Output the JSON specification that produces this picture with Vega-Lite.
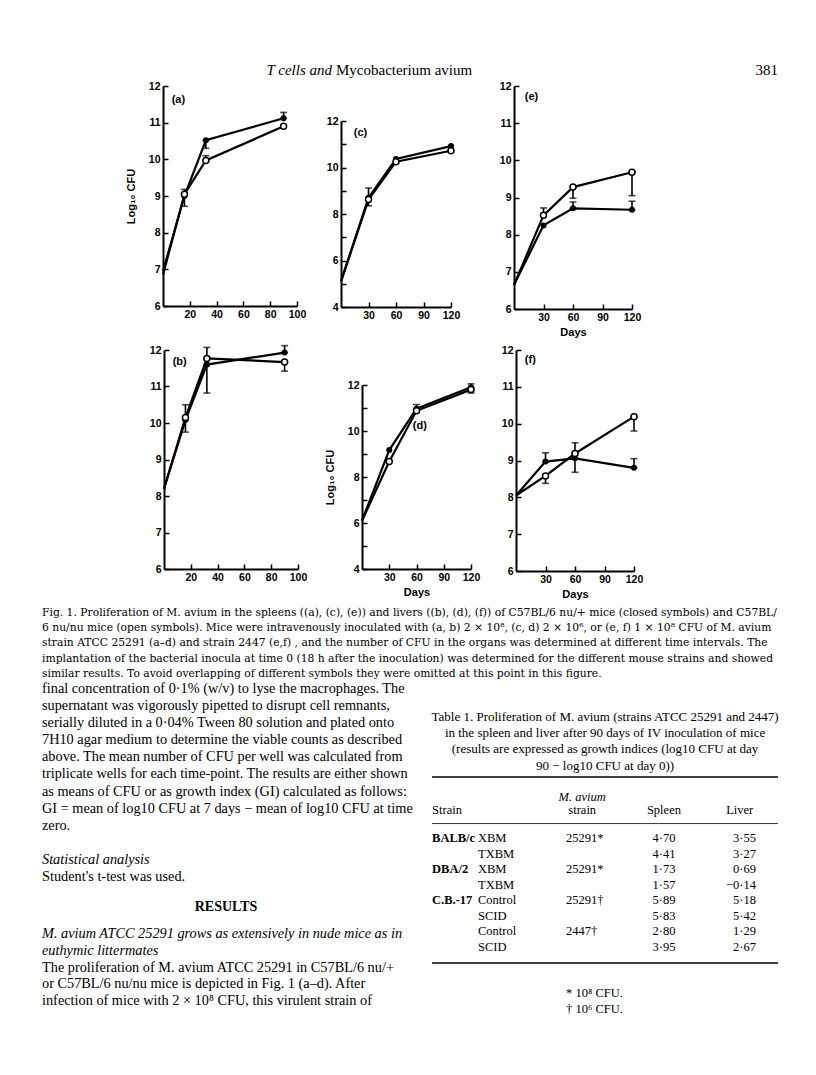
{
 "$schema": "https://vega.github.io/schema/vega-lite/v6.json",
 "background": "white",
 "padding": {"left": 42, "top": 63, "right": 0, "bottom": 0},
 "spacing": 3,
 "config": {
  "view": {"stroke": null},
  "font": "Liberation Sans",
  "axis": {"domainColor": "black", "domainWidth": 2, "tickColor": "black", "tickWidth": 1.5, "tickSize": -5, "labelColor": "black", "labelFont": "Liberation Sans", "labelFontWeight": "bold", "labelFontSize": 10.5, "labelPadding": 8, "labelFlush": false, "labelOverlap": false, "grid": false, "titleColor": "black", "titleFont": "Liberation Sans", "titleFontWeight": "bold", "titleFontSize": 11}
 },
 "datasets": {
  "fig": [
   {"panel": "a", "group": "nu/+", "day": 0, "cfu": 6.95, "err": null},
   {"panel": "a", "group": "nu/+", "day": 16, "cfu": 9.0, "err": 9.18},
   {"panel": "a", "group": "nu/+", "day": 32, "cfu": 10.52, "err": 10.3},
   {"panel": "a", "group": "nu/+", "day": 90, "cfu": 11.12, "err": 11.28},
   {"panel": "a", "group": "nu/nu", "day": 0, "cfu": 6.85, "err": null},
   {"panel": "a", "group": "nu/nu", "day": 16, "cfu": 9.05, "err": 8.72},
   {"panel": "a", "group": "nu/nu", "day": 32, "cfu": 9.97, "err": 10.1},
   {"panel": "a", "group": "nu/nu", "day": 90, "cfu": 10.9, "err": null},
   {"panel": "b", "group": "nu/+", "day": 0, "cfu": 8.2, "err": null},
   {"panel": "b", "group": "nu/+", "day": 16, "cfu": 10.08, "err": 9.75},
   {"panel": "b", "group": "nu/+", "day": 32, "cfu": 11.6, "err": 10.82},
   {"panel": "b", "group": "nu/+", "day": 90, "cfu": 11.93, "err": 12.12},
   {"panel": "b", "group": "nu/nu", "day": 0, "cfu": 8.2, "err": null},
   {"panel": "b", "group": "nu/nu", "day": 16, "cfu": 10.15, "err": 10.5},
   {"panel": "b", "group": "nu/nu", "day": 32, "cfu": 11.77, "err": 12.07},
   {"panel": "b", "group": "nu/nu", "day": 90, "cfu": 11.67, "err": 11.42},
   {"panel": "c", "group": "nu/+", "day": 0, "cfu": 5.1, "err": null},
   {"panel": "c", "group": "nu/+", "day": 30, "cfu": 8.7, "err": 9.12},
   {"panel": "c", "group": "nu/+", "day": 60, "cfu": 10.37, "err": null},
   {"panel": "c", "group": "nu/+", "day": 120, "cfu": 10.92, "err": null},
   {"panel": "c", "group": "nu/nu", "day": 0, "cfu": 5.1, "err": null},
   {"panel": "c", "group": "nu/nu", "day": 30, "cfu": 8.62, "err": 8.35},
   {"panel": "c", "group": "nu/nu", "day": 60, "cfu": 10.25, "err": null},
   {"panel": "c", "group": "nu/nu", "day": 120, "cfu": 10.72, "err": null},
   {"panel": "d", "group": "nu/+", "day": 0, "cfu": 6.1, "err": null},
   {"panel": "d", "group": "nu/+", "day": 30, "cfu": 9.17, "err": null},
   {"panel": "d", "group": "nu/+", "day": 60, "cfu": 10.97, "err": 11.15},
   {"panel": "d", "group": "nu/+", "day": 120, "cfu": 11.9, "err": 12.05},
   {"panel": "d", "group": "nu/nu", "day": 0, "cfu": 6.1, "err": null},
   {"panel": "d", "group": "nu/nu", "day": 30, "cfu": 8.67, "err": null},
   {"panel": "d", "group": "nu/nu", "day": 60, "cfu": 10.88, "err": null},
   {"panel": "d", "group": "nu/nu", "day": 120, "cfu": 11.8, "err": 11.65},
   {"panel": "e", "group": "nu/+", "day": 0, "cfu": 6.65, "err": null},
   {"panel": "e", "group": "nu/+", "day": 30, "cfu": 8.25, "err": null},
   {"panel": "e", "group": "nu/+", "day": 60, "cfu": 8.71, "err": 8.88},
   {"panel": "e", "group": "nu/+", "day": 120, "cfu": 8.67, "err": 8.9},
   {"panel": "e", "group": "nu/nu", "day": 0, "cfu": 6.65, "err": null},
   {"panel": "e", "group": "nu/nu", "day": 30, "cfu": 8.52, "err": 8.72},
   {"panel": "e", "group": "nu/nu", "day": 60, "cfu": 9.28, "err": 8.98},
   {"panel": "e", "group": "nu/nu", "day": 120, "cfu": 9.68, "err": 9.05},
   {"panel": "f", "group": "nu/+", "day": 0, "cfu": 8.05, "err": null},
   {"panel": "f", "group": "nu/+", "day": 30, "cfu": 8.97, "err": 9.21},
   {"panel": "f", "group": "nu/+", "day": 60, "cfu": 9.06, "err": 8.68},
   {"panel": "f", "group": "nu/+", "day": 120, "cfu": 8.8, "err": 9.05},
   {"panel": "f", "group": "nu/nu", "day": 0, "cfu": 8.05, "err": null},
   {"panel": "f", "group": "nu/nu", "day": 30, "cfu": 8.58, "err": 8.38},
   {"panel": "f", "group": "nu/nu", "day": 60, "cfu": 9.19, "err": 9.48},
   {"panel": "f", "group": "nu/nu", "day": 120, "cfu": 10.19, "err": 9.8}
  ],
  "labels": [
   {"panel": "a", "label": "(a)"},
   {"panel": "b", "label": "(b)"},
   {"panel": "c", "label": "(c)"},
   {"panel": "d", "label": "(d)"},
   {"panel": "e", "label": "(e)"},
   {"panel": "f", "label": "(f)"}
  ],
  "table": [
   {"Strain": "BALB/c", "Group": "XBM", "Mav": "25291*", "Spleen": "4·70", "Liver": "3·55", "row": 1},
   {"Strain": "", "Group": "TXBM", "Mav": "", "Spleen": "4·41", "Liver": "3·27", "row": 2},
   {"Strain": "DBA/2", "Group": "XBM", "Mav": "25291*", "Spleen": "1·73", "Liver": "0·69", "row": 3},
   {"Strain": "", "Group": "TXBM", "Mav": "", "Spleen": "1·57", "Liver": "−0·14", "row": 4},
   {"Strain": "C.B.-17", "Group": "Control", "Mav": "25291†", "Spleen": "5·89", "Liver": "5·18", "row": 5},
   {"Strain": "", "Group": "SCID", "Mav": "", "Spleen": "5·83", "Liver": "5·42", "row": 6},
   {"Strain": "", "Group": "Control", "Mav": "2447†", "Spleen": "2·80", "Liver": "1·29", "row": 7},
   {"Strain": "", "Group": "SCID", "Mav": "", "Spleen": "3·95", "Liver": "2·67", "row": 8}
  ]
 },
 "vconcat": [
  {
   "width": 736, "height": 8,
   "layer": [
    {"data": {"values": [{"part": "T cells and"}]}, "mark": {"type": "text", "align": "right", "baseline": "middle", "font": "Liberation Serif", "fontStyle": "italic", "fontSize": 15, "color": "black"},
     "encoding": {"x": {"datum": 0.394, "type": "quantitative", "scale": {"domain": [0, 1], "nice": false}, "axis": null}, "text": {"field": "part"}}},
    {"data": {"values": [{"part": "Mycobacterium avium"}]}, "mark": {"type": "text", "align": "left", "baseline": "middle", "font": "Liberation Serif", "fontSize": 15, "color": "black", "dx": 4},
     "encoding": {"x": {"datum": 0.394, "type": "quantitative"}, "text": {"field": "part"}}},
    {"data": {"values": [{"page": "381"}]}, "mark": {"type": "text", "align": "right", "baseline": "middle", "font": "Liberation Serif", "fontSize": 15, "color": "black"},
     "encoding": {"x": {"datum": 1, "type": "quantitative"}, "text": {"field": "page"}}}
   ]
  },
  {
   "spacing": 6,
   "vconcat": [
    {
     "spacing": 0,
     "hconcat": [
      {"width": 83, "height": 1, "data": {"values": []}, "mark": "point"},
      {
       "width": 134, "height": 220,
       "layer": [
        {"data": {"name": "fig"}, "transform": [{"filter": "datum.panel === 'a'"}], "mark": {"type": "line", "color": "black", "strokeWidth": 2.2},
         "encoding": {"x": {"field": "day", "type": "quantitative", "scale": {"domain": [0, 100], "nice": false, "zero": false}, "axis": {"values": [20, 40, 60, 80, 100], "title": null}},
          "y": {"field": "cfu", "type": "quantitative", "scale": {"domain": [6, 12], "nice": false, "zero": false}, "axis": {"values": [6, 7, 8, 9, 10, 11, 12], "title": "Log₁₀ CFU", "titlePadding": 12}},
          "detail": {"field": "group"}}},
        {"data": {"name": "fig"}, "transform": [{"filter": "datum.panel === 'a' && isValid(datum.err)"}], "mark": {"type": "errorbar", "ticks": {"size": 7, "thickness": 1.6, "color": "black"}, "rule": {"strokeWidth": 1.6, "color": "black"}},
         "encoding": {"x": {"field": "day", "type": "quantitative", "scale": {"domain": [0, 100], "nice": false, "zero": false}, "axis": {"values": [20, 40, 60, 80, 100], "title": null}},
          "y": {"field": "cfu", "type": "quantitative", "scale": {"domain": [6, 12], "nice": false, "zero": false}, "axis": {"values": [6, 7, 8, 9, 10, 11, 12], "title": "Log₁₀ CFU", "titlePadding": 12}},
          "y2": {"field": "err"}}},
        {"data": {"name": "fig"}, "transform": [{"filter": "datum.panel === 'a' && datum.day > 0 && datum.group === 'nu/+'"}], "mark": {"type": "point", "shape": "circle", "filled": true, "color": "black", "size": 36, "opacity": 1},
         "encoding": {"x": {"field": "day", "type": "quantitative", "scale": {"domain": [0, 100], "nice": false, "zero": false}, "axis": {"values": [20, 40, 60, 80, 100], "title": null}},
          "y": {"field": "cfu", "type": "quantitative", "scale": {"domain": [6, 12], "nice": false, "zero": false}, "axis": {"values": [6, 7, 8, 9, 10, 11, 12], "title": "Log₁₀ CFU", "titlePadding": 12}}}},
        {"data": {"name": "fig"}, "transform": [{"filter": "datum.panel === 'a' && datum.day > 0 && datum.group === 'nu/nu'"}], "mark": {"type": "point", "shape": "circle", "filled": true, "fill": "white", "stroke": "black", "strokeWidth": 1.5, "size": 36, "opacity": 1},
         "encoding": {"x": {"field": "day", "type": "quantitative", "scale": {"domain": [0, 100], "nice": false, "zero": false}, "axis": {"values": [20, 40, 60, 80, 100], "title": null}},
          "y": {"field": "cfu", "type": "quantitative", "scale": {"domain": [6, 12], "nice": false, "zero": false}, "axis": {"values": [6, 7, 8, 9, 10, 11, 12], "title": "Log₁₀ CFU", "titlePadding": 12}}}},
        {"data": {"name": "labels"}, "transform": [{"filter": "datum.panel === 'a'"}], "mark": {"type": "text", "align": "left", "baseline": "middle", "fontWeight": "bold", "fontSize": 11, "color": "black"},
         "encoding": {"x": {"datum": 6.5, "type": "quantitative", "scale": {"domain": [0, 100], "nice": false, "zero": false}, "axis": {"values": [20, 40, 60, 80, 100], "title": null}},
          "y": {"datum": 11.62, "type": "quantitative", "scale": {"domain": [6, 12], "nice": false, "zero": false}, "axis": {"values": [6, 7, 8, 9, 10, 11, 12], "title": "Log₁₀ CFU", "titlePadding": 12}},
          "text": {"field": "label"}}}
       ]
      },
      {"width": 20, "height": 1, "data": {"values": []}, "mark": "point"},
      {
       "spacing": 0,
       "vconcat": [
        {"width": 1, "height": 30, "data": {"values": []}, "mark": "point"},
        {
         "width": 110, "height": 186,
         "layer": [
          {"data": {"name": "fig"}, "transform": [{"filter": "datum.panel === 'c'"}], "mark": {"type": "line", "color": "black", "strokeWidth": 2.2},
           "encoding": {"x": {"field": "day", "type": "quantitative", "scale": {"domain": [0, 120], "nice": false, "zero": false}, "axis": {"values": [30, 60, 90, 120], "title": null}},
            "y": {"field": "cfu", "type": "quantitative", "scale": {"domain": [4, 12], "nice": false, "zero": false}, "axis": {"values": [4, 5, 6, 7, 8, 9, 10, 11, 12], "labelExpr": "datum.value % 2 === 0 ? datum.label : ''", "title": null}},
            "detail": {"field": "group"}}},
          {"data": {"name": "fig"}, "transform": [{"filter": "datum.panel === 'c' && isValid(datum.err)"}], "mark": {"type": "errorbar", "ticks": {"size": 7, "thickness": 1.6, "color": "black"}, "rule": {"strokeWidth": 1.6, "color": "black"}},
           "encoding": {"x": {"field": "day", "type": "quantitative", "scale": {"domain": [0, 120], "nice": false, "zero": false}, "axis": {"values": [30, 60, 90, 120], "title": null}},
            "y": {"field": "cfu", "type": "quantitative", "scale": {"domain": [4, 12], "nice": false, "zero": false}, "axis": {"values": [4, 5, 6, 7, 8, 9, 10, 11, 12], "labelExpr": "datum.value % 2 === 0 ? datum.label : ''", "title": null}},
            "y2": {"field": "err"}}},
          {"data": {"name": "fig"}, "transform": [{"filter": "datum.panel === 'c' && datum.day > 0 && datum.group === 'nu/+'"}], "mark": {"type": "point", "shape": "circle", "filled": true, "color": "black", "size": 36, "opacity": 1},
           "encoding": {"x": {"field": "day", "type": "quantitative", "scale": {"domain": [0, 120], "nice": false, "zero": false}, "axis": {"values": [30, 60, 90, 120], "title": null}},
            "y": {"field": "cfu", "type": "quantitative", "scale": {"domain": [4, 12], "nice": false, "zero": false}, "axis": {"values": [4, 5, 6, 7, 8, 9, 10, 11, 12], "labelExpr": "datum.value % 2 === 0 ? datum.label : ''", "title": null}}}},
          {"data": {"name": "fig"}, "transform": [{"filter": "datum.panel === 'c' && datum.day > 0 && datum.group === 'nu/nu'"}], "mark": {"type": "point", "shape": "circle", "filled": true, "fill": "white", "stroke": "black", "strokeWidth": 1.5, "size": 36, "opacity": 1},
           "encoding": {"x": {"field": "day", "type": "quantitative", "scale": {"domain": [0, 120], "nice": false, "zero": false}, "axis": {"values": [30, 60, 90, 120], "title": null}},
            "y": {"field": "cfu", "type": "quantitative", "scale": {"domain": [4, 12], "nice": false, "zero": false}, "axis": {"values": [4, 5, 6, 7, 8, 9, 10, 11, 12], "labelExpr": "datum.value % 2 === 0 ? datum.label : ''", "title": null}}}},
          {"data": {"name": "labels"}, "transform": [{"filter": "datum.panel === 'c'"}], "mark": {"type": "text", "align": "left", "baseline": "middle", "fontWeight": "bold", "fontSize": 11, "color": "black"},
           "encoding": {"x": {"datum": 14, "type": "quantitative", "scale": {"domain": [0, 120], "nice": false, "zero": false}, "axis": {"values": [30, 60, 90, 120], "title": null}},
            "y": {"datum": 11.48, "type": "quantitative", "scale": {"domain": [4, 12], "nice": false, "zero": false}, "axis": {"values": [4, 5, 6, 7, 8, 9, 10, 11, 12], "labelExpr": "datum.value % 2 === 0 ? datum.label : ''", "title": null}},
            "text": {"field": "label"}}}
         ]
        }
       ]
      },
      {"width": 39, "height": 1, "data": {"values": []}, "mark": "point"},
      {
       "width": 118, "height": 223,
       "layer": [
        {"data": {"name": "fig"}, "transform": [{"filter": "datum.panel === 'e'"}], "mark": {"type": "line", "color": "black", "strokeWidth": 2.2},
         "encoding": {"x": {"field": "day", "type": "quantitative", "scale": {"domain": [0, 120], "nice": false, "zero": false}, "axis": {"values": [30, 60, 90, 120], "title": "Days", "titlePadding": 4}},
          "y": {"field": "cfu", "type": "quantitative", "scale": {"domain": [6, 12], "nice": false, "zero": false}, "axis": {"values": [6, 7, 8, 9, 10, 11, 12], "title": null}},
          "detail": {"field": "group"}}},
        {"data": {"name": "fig"}, "transform": [{"filter": "datum.panel === 'e' && isValid(datum.err)"}], "mark": {"type": "errorbar", "ticks": {"size": 7, "thickness": 1.6, "color": "black"}, "rule": {"strokeWidth": 1.6, "color": "black"}},
         "encoding": {"x": {"field": "day", "type": "quantitative", "scale": {"domain": [0, 120], "nice": false, "zero": false}, "axis": {"values": [30, 60, 90, 120], "title": "Days", "titlePadding": 4}},
          "y": {"field": "cfu", "type": "quantitative", "scale": {"domain": [6, 12], "nice": false, "zero": false}, "axis": {"values": [6, 7, 8, 9, 10, 11, 12], "title": null}},
          "y2": {"field": "err"}}},
        {"data": {"name": "fig"}, "transform": [{"filter": "datum.panel === 'e' && datum.day > 0 && datum.group === 'nu/+'"}], "mark": {"type": "point", "shape": "circle", "filled": true, "color": "black", "size": 36, "opacity": 1},
         "encoding": {"x": {"field": "day", "type": "quantitative", "scale": {"domain": [0, 120], "nice": false, "zero": false}, "axis": {"values": [30, 60, 90, 120], "title": "Days", "titlePadding": 4}},
          "y": {"field": "cfu", "type": "quantitative", "scale": {"domain": [6, 12], "nice": false, "zero": false}, "axis": {"values": [6, 7, 8, 9, 10, 11, 12], "title": null}}}},
        {"data": {"name": "fig"}, "transform": [{"filter": "datum.panel === 'e' && datum.day > 0 && datum.group === 'nu/nu'"}], "mark": {"type": "point", "shape": "circle", "filled": true, "fill": "white", "stroke": "black", "strokeWidth": 1.5, "size": 36, "opacity": 1},
         "encoding": {"x": {"field": "day", "type": "quantitative", "scale": {"domain": [0, 120], "nice": false, "zero": false}, "axis": {"values": [30, 60, 90, 120], "title": "Days", "titlePadding": 4}},
          "y": {"field": "cfu", "type": "quantitative", "scale": {"domain": [6, 12], "nice": false, "zero": false}, "axis": {"values": [6, 7, 8, 9, 10, 11, 12], "title": null}}}},
        {"data": {"name": "labels"}, "transform": [{"filter": "datum.panel === 'e'"}], "mark": {"type": "text", "align": "left", "baseline": "middle", "fontWeight": "bold", "fontSize": 11, "color": "black"},
         "encoding": {"x": {"datum": 11, "type": "quantitative", "scale": {"domain": [0, 120], "nice": false, "zero": false}, "axis": {"values": [30, 60, 90, 120], "title": "Days", "titlePadding": 4}},
          "y": {"datum": 11.7, "type": "quantitative", "scale": {"domain": [6, 12], "nice": false, "zero": false}, "axis": {"values": [6, 7, 8, 9, 10, 11, 12], "title": null}},
          "text": {"field": "label"}}}
       ]
      }
     ]
    },
    {
     "spacing": 0,
     "hconcat": [
      {"width": 107, "height": 1, "data": {"values": []}, "mark": "point"},
      {
       "width": 134, "height": 219,
       "layer": [
        {"data": {"name": "fig"}, "transform": [{"filter": "datum.panel === 'b'"}], "mark": {"type": "line", "color": "black", "strokeWidth": 2.2},
         "encoding": {"x": {"field": "day", "type": "quantitative", "scale": {"domain": [0, 100], "nice": false, "zero": false}, "axis": {"values": [20, 40, 60, 80, 100], "title": null}},
          "y": {"field": "cfu", "type": "quantitative", "scale": {"domain": [6, 12], "nice": false, "zero": false}, "axis": {"values": [6, 7, 8, 9, 10, 11, 12], "title": null}},
          "detail": {"field": "group"}}},
        {"data": {"name": "fig"}, "transform": [{"filter": "datum.panel === 'b' && isValid(datum.err)"}], "mark": {"type": "errorbar", "ticks": {"size": 7, "thickness": 1.6, "color": "black"}, "rule": {"strokeWidth": 1.6, "color": "black"}},
         "encoding": {"x": {"field": "day", "type": "quantitative", "scale": {"domain": [0, 100], "nice": false, "zero": false}, "axis": {"values": [20, 40, 60, 80, 100], "title": null}},
          "y": {"field": "cfu", "type": "quantitative", "scale": {"domain": [6, 12], "nice": false, "zero": false}, "axis": {"values": [6, 7, 8, 9, 10, 11, 12], "title": null}},
          "y2": {"field": "err"}}},
        {"data": {"name": "fig"}, "transform": [{"filter": "datum.panel === 'b' && datum.day > 0 && datum.group === 'nu/+'"}], "mark": {"type": "point", "shape": "circle", "filled": true, "color": "black", "size": 36, "opacity": 1},
         "encoding": {"x": {"field": "day", "type": "quantitative", "scale": {"domain": [0, 100], "nice": false, "zero": false}, "axis": {"values": [20, 40, 60, 80, 100], "title": null}},
          "y": {"field": "cfu", "type": "quantitative", "scale": {"domain": [6, 12], "nice": false, "zero": false}, "axis": {"values": [6, 7, 8, 9, 10, 11, 12], "title": null}}}},
        {"data": {"name": "fig"}, "transform": [{"filter": "datum.panel === 'b' && datum.day > 0 && datum.group === 'nu/nu'"}], "mark": {"type": "point", "shape": "circle", "filled": true, "fill": "white", "stroke": "black", "strokeWidth": 1.5, "size": 36, "opacity": 1},
         "encoding": {"x": {"field": "day", "type": "quantitative", "scale": {"domain": [0, 100], "nice": false, "zero": false}, "axis": {"values": [20, 40, 60, 80, 100], "title": null}},
          "y": {"field": "cfu", "type": "quantitative", "scale": {"domain": [6, 12], "nice": false, "zero": false}, "axis": {"values": [6, 7, 8, 9, 10, 11, 12], "title": null}}}},
        {"data": {"name": "labels"}, "transform": [{"filter": "datum.panel === 'b'"}], "mark": {"type": "text", "align": "left", "baseline": "middle", "fontWeight": "bold", "fontSize": 11, "color": "black"},
         "encoding": {"x": {"datum": 6.5, "type": "quantitative", "scale": {"domain": [0, 100], "nice": false, "zero": false}, "axis": {"values": [20, 40, 60, 80, 100], "title": null}},
          "y": {"datum": 11.67, "type": "quantitative", "scale": {"domain": [6, 12], "nice": false, "zero": false}, "axis": {"values": [6, 7, 8, 9, 10, 11, 12], "title": null}},
          "text": {"field": "label"}}}
       ]
      },
      {"width": 17, "height": 1, "data": {"values": []}, "mark": "point"},
      {
       "spacing": 0,
       "vconcat": [
        {"width": 1, "height": 30, "data": {"values": []}, "mark": "point"},
        {
         "width": 109, "height": 184,
         "layer": [
          {"data": {"name": "fig"}, "transform": [{"filter": "datum.panel === 'd'"}], "mark": {"type": "line", "color": "black", "strokeWidth": 2.2},
           "encoding": {"x": {"field": "day", "type": "quantitative", "scale": {"domain": [0, 120], "nice": false, "zero": false}, "axis": {"values": [30, 60, 90, 120], "title": "Days", "titlePadding": 4}},
            "y": {"field": "cfu", "type": "quantitative", "scale": {"domain": [4, 12], "nice": false, "zero": false}, "axis": {"values": [4, 5, 6, 7, 8, 9, 10, 11, 12], "labelExpr": "datum.value % 2 === 0 ? datum.label : ''", "title": "Log₁₀ CFU", "titlePadding": 12}},
            "detail": {"field": "group"}}},
          {"data": {"name": "fig"}, "transform": [{"filter": "datum.panel === 'd' && isValid(datum.err)"}], "mark": {"type": "errorbar", "ticks": {"size": 7, "thickness": 1.6, "color": "black"}, "rule": {"strokeWidth": 1.6, "color": "black"}},
           "encoding": {"x": {"field": "day", "type": "quantitative", "scale": {"domain": [0, 120], "nice": false, "zero": false}, "axis": {"values": [30, 60, 90, 120], "title": "Days", "titlePadding": 4}},
            "y": {"field": "cfu", "type": "quantitative", "scale": {"domain": [4, 12], "nice": false, "zero": false}, "axis": {"values": [4, 5, 6, 7, 8, 9, 10, 11, 12], "labelExpr": "datum.value % 2 === 0 ? datum.label : ''", "title": "Log₁₀ CFU", "titlePadding": 12}},
            "y2": {"field": "err"}}},
          {"data": {"name": "fig"}, "transform": [{"filter": "datum.panel === 'd' && datum.day > 0 && datum.group === 'nu/+'"}], "mark": {"type": "point", "shape": "circle", "filled": true, "color": "black", "size": 36, "opacity": 1},
           "encoding": {"x": {"field": "day", "type": "quantitative", "scale": {"domain": [0, 120], "nice": false, "zero": false}, "axis": {"values": [30, 60, 90, 120], "title": "Days", "titlePadding": 4}},
            "y": {"field": "cfu", "type": "quantitative", "scale": {"domain": [4, 12], "nice": false, "zero": false}, "axis": {"values": [4, 5, 6, 7, 8, 9, 10, 11, 12], "labelExpr": "datum.value % 2 === 0 ? datum.label : ''", "title": "Log₁₀ CFU", "titlePadding": 12}}}},
          {"data": {"name": "fig"}, "transform": [{"filter": "datum.panel === 'd' && datum.day > 0 && datum.group === 'nu/nu'"}], "mark": {"type": "point", "shape": "circle", "filled": true, "fill": "white", "stroke": "black", "strokeWidth": 1.5, "size": 36, "opacity": 1},
           "encoding": {"x": {"field": "day", "type": "quantitative", "scale": {"domain": [0, 120], "nice": false, "zero": false}, "axis": {"values": [30, 60, 90, 120], "title": "Days", "titlePadding": 4}},
            "y": {"field": "cfu", "type": "quantitative", "scale": {"domain": [4, 12], "nice": false, "zero": false}, "axis": {"values": [4, 5, 6, 7, 8, 9, 10, 11, 12], "labelExpr": "datum.value % 2 === 0 ? datum.label : ''", "title": "Log₁₀ CFU", "titlePadding": 12}}}},
          {"data": {"name": "labels"}, "transform": [{"filter": "datum.panel === 'd'"}], "mark": {"type": "text", "align": "left", "baseline": "middle", "fontWeight": "bold", "fontSize": 11, "color": "black"},
           "encoding": {"x": {"datum": 56, "type": "quantitative", "scale": {"domain": [0, 120], "nice": false, "zero": false}, "axis": {"values": [30, 60, 90, 120], "title": "Days", "titlePadding": 4}},
            "y": {"datum": 10.2, "type": "quantitative", "scale": {"domain": [4, 12], "nice": false, "zero": false}, "axis": {"values": [4, 5, 6, 7, 8, 9, 10, 11, 12], "labelExpr": "datum.value % 2 === 0 ? datum.label : ''", "title": "Log₁₀ CFU", "titlePadding": 12}},
            "text": {"field": "label"}}}
         ]
        }
       ]
      },
      {"width": 21, "height": 1, "data": {"values": []}, "mark": "point"},
      {
       "width": 118, "height": 221,
       "layer": [
        {"data": {"name": "fig"}, "transform": [{"filter": "datum.panel === 'f'"}], "mark": {"type": "line", "color": "black", "strokeWidth": 2.2},
         "encoding": {"x": {"field": "day", "type": "quantitative", "scale": {"domain": [0, 120], "nice": false, "zero": false}, "axis": {"values": [30, 60, 90, 120], "title": "Days", "titlePadding": 4}},
          "y": {"field": "cfu", "type": "quantitative", "scale": {"domain": [6, 12], "nice": false, "zero": false}, "axis": {"values": [6, 7, 8, 9, 10, 11, 12], "title": null}},
          "detail": {"field": "group"}}},
        {"data": {"name": "fig"}, "transform": [{"filter": "datum.panel === 'f' && isValid(datum.err)"}], "mark": {"type": "errorbar", "ticks": {"size": 7, "thickness": 1.6, "color": "black"}, "rule": {"strokeWidth": 1.6, "color": "black"}},
         "encoding": {"x": {"field": "day", "type": "quantitative", "scale": {"domain": [0, 120], "nice": false, "zero": false}, "axis": {"values": [30, 60, 90, 120], "title": "Days", "titlePadding": 4}},
          "y": {"field": "cfu", "type": "quantitative", "scale": {"domain": [6, 12], "nice": false, "zero": false}, "axis": {"values": [6, 7, 8, 9, 10, 11, 12], "title": null}},
          "y2": {"field": "err"}}},
        {"data": {"name": "fig"}, "transform": [{"filter": "datum.panel === 'f' && datum.day > 0 && datum.group === 'nu/+'"}], "mark": {"type": "point", "shape": "circle", "filled": true, "color": "black", "size": 36, "opacity": 1},
         "encoding": {"x": {"field": "day", "type": "quantitative", "scale": {"domain": [0, 120], "nice": false, "zero": false}, "axis": {"values": [30, 60, 90, 120], "title": "Days", "titlePadding": 4}},
          "y": {"field": "cfu", "type": "quantitative", "scale": {"domain": [6, 12], "nice": false, "zero": false}, "axis": {"values": [6, 7, 8, 9, 10, 11, 12], "title": null}}}},
        {"data": {"name": "fig"}, "transform": [{"filter": "datum.panel === 'f' && datum.day > 0 && datum.group === 'nu/nu'"}], "mark": {"type": "point", "shape": "circle", "filled": true, "fill": "white", "stroke": "black", "strokeWidth": 1.5, "size": 36, "opacity": 1},
         "encoding": {"x": {"field": "day", "type": "quantitative", "scale": {"domain": [0, 120], "nice": false, "zero": false}, "axis": {"values": [30, 60, 90, 120], "title": "Days", "titlePadding": 4}},
          "y": {"field": "cfu", "type": "quantitative", "scale": {"domain": [6, 12], "nice": false, "zero": false}, "axis": {"values": [6, 7, 8, 9, 10, 11, 12], "title": null}}}},
        {"data": {"name": "labels"}, "transform": [{"filter": "datum.panel === 'f'"}], "mark": {"type": "text", "align": "left", "baseline": "middle", "fontWeight": "bold", "fontSize": 11, "color": "black"},
         "encoding": {"x": {"datum": 9, "type": "quantitative", "scale": {"domain": [0, 120], "nice": false, "zero": false}, "axis": {"values": [30, 60, 90, 120], "title": "Days", "titlePadding": 4}},
          "y": {"datum": 11.73, "type": "quantitative", "scale": {"domain": [6, 12], "nice": false, "zero": false}, "axis": {"values": [6, 7, 8, 9, 10, 11, 12], "title": null}},
          "text": {"field": "label"}}}
       ]
      }
     ]
    }
   ]
  },
  {
   "width": 736, "height": 460,
   "resolve": {"scale": {"y": "independent"}},
   "layer": [
    {"data": {"values": [
      {"line": 1, "text": "Fig. 1. Proliferation of M. avium in the spleens ((a), (c), (e)) and livers ((b), (d), (f)) of C57BL/6 nu/+ mice (closed symbols) and C57BL/"},
      {"line": 2, "text": "6 nu/nu mice (open symbols). Mice were intravenously inoculated with (a, b) 2 × 10⁸, (c, d) 2 × 10⁶, or (e, f) 1 × 10⁸ CFU of M. avium"},
      {"line": 3, "text": "strain ATCC 25291 (a–d) and strain 2447 (e,f) , and the number of CFU in the organs was determined at different time intervals. The"},
      {"line": 4, "text": "implantation of the bacterial inocula at time 0 (18 h after the inoculation) was determined for the different mouse strains and showed"},
      {"line": 5, "text": "similar results. To avoid overlapping of different symbols they were omitted at this point in this figure."}]},
     "mark": {"type": "text", "align": "left", "baseline": "middle", "font": "DejaVu Serif", "fontSize": 10.75, "color": "black"},
     "encoding": {"x": {"datum": 0, "type": "quantitative", "scale": {"domain": [0, 1], "nice": false, "zero": false}, "axis": null},
      "y": {"field": "line", "type": "quantitative", "scale": {"domain": [0.342, 30.605], "reverse": true, "nice": false, "zero": false}, "axis": null},
      "text": {"field": "text"}}},
    {"data": {"values": [
      {"line": 1, "text": "final concentration of 0·1% (w/v) to lyse the macrophages. The"},
      {"line": 2, "text": "supernatant was vigorously pipetted to disrupt cell remnants,"},
      {"line": 3, "text": "serially diluted in a 0·04% Tween 80 solution and plated onto"},
      {"line": 4, "text": "7H10 agar medium to determine the viable counts as described"},
      {"line": 5, "text": "above. The mean number of CFU per well was calculated from"},
      {"line": 6, "text": "triplicate wells for each time-point. The results are either shown"},
      {"line": 7, "text": "as means of CFU or as growth index (GI) calculated as follows:"},
      {"line": 8, "text": "GI = mean of log10 CFU at 7 days − mean of log10 CFU at time"},
      {"line": 9, "text": "zero."},
      {"line": 12, "text": "Student's t-test was used."}]},
     "mark": {"type": "text", "align": "left", "baseline": "middle", "font": "Liberation Serif", "fontSize": 14.3, "color": "black"},
     "encoding": {"x": {"datum": 0, "type": "quantitative"},
      "y": {"field": "line", "type": "quantitative", "scale": {"domain": [-4.029, 22.872], "reverse": true, "nice": false, "zero": false}, "axis": null},
      "text": {"field": "text"}}},
    {"data": {"values": [{"line": 11, "text": "Statistical analysis"}]},
     "mark": {"type": "text", "align": "left", "baseline": "middle", "font": "Liberation Serif", "fontStyle": "italic", "fontSize": 14.3, "color": "black"},
     "encoding": {"x": {"datum": 0, "type": "quantitative"},
      "y": {"field": "line", "type": "quantitative", "scale": {"domain": [-4.029, 22.872], "reverse": true, "nice": false, "zero": false}, "axis": null},
      "text": {"field": "text"}}},
    {"data": {"values": [{"line": 1, "text": "RESULTS"}]},
     "mark": {"type": "text", "align": "center", "baseline": "middle", "font": "Liberation Serif", "fontWeight": "bold", "fontSize": 14, "color": "black"},
     "encoding": {"x": {"datum": 0.25, "type": "quantitative"},
      "y": {"field": "line", "type": "quantitative", "scale": {"domain": [-17.095, 10.286], "reverse": true, "nice": false, "zero": false}, "axis": null},
      "text": {"field": "text"}}},
    {"data": {"values": [
      {"line": 1, "text": "M. avium ATCC 25291 grows as extensively in nude mice as in"},
      {"line": 2, "text": "euthymic littermates"}]},
     "mark": {"type": "text", "align": "left", "baseline": "middle", "font": "Liberation Serif", "fontStyle": "italic", "fontSize": 14.3, "color": "black"},
     "encoding": {"x": {"datum": 0, "type": "quantitative"},
      "y": {"field": "line", "type": "quantitative", "scale": {"domain": [-18.702, 8.679], "reverse": true, "nice": false, "zero": false}, "axis": null},
      "text": {"field": "text"}}},
    {"data": {"values": [
      {"line": 3, "text": "The proliferation of M. avium ATCC 25291 in C57BL/6 nu/+"},
      {"line": 4, "text": "or C57BL/6 nu/nu mice is depicted in Fig. 1 (a–d). After"},
      {"line": 5, "text": "infection of mice with 2 × 10⁸ CFU, this virulent strain of"}]},
     "mark": {"type": "text", "align": "left", "baseline": "middle", "font": "Liberation Serif", "fontSize": 14.3, "color": "black"},
     "encoding": {"x": {"datum": 0, "type": "quantitative"},
      "y": {"field": "line", "type": "quantitative", "scale": {"domain": [-18.702, 8.679], "reverse": true, "nice": false, "zero": false}, "axis": null},
      "text": {"field": "text"}}},
    {"data": {"values": [
      {"line": 1, "text": "Table 1. Proliferation of M. avium (strains ATCC 25291 and 2447)"},
      {"line": 2, "text": "in the spleen and liver after 90 days of IV inoculation of mice"},
      {"line": 3, "text": "(results are expressed as growth indices (log10 CFU at day"},
      {"line": 4, "text": "90 − log10 CFU at day 0))"}]},
     "mark": {"type": "text", "align": "center", "baseline": "middle", "font": "Liberation Serif", "fontSize": 13, "color": "black"},
     "encoding": {"x": {"datum": 0.765, "type": "quantitative"},
      "y": {"field": "line", "type": "quantitative", "scale": {"domain": [-5.921, 22.128], "reverse": true, "nice": false, "zero": false}, "axis": null},
      "text": {"field": "text"}}},
    {"data": {"values": [{"rule": "top"}]}, "mark": {"type": "rule", "color": "black", "strokeWidth": 1.6},
     "encoding": {"x": {"datum": 0.53, "type": "quantitative"}, "x2": {"datum": 1},
      "y": {"datum": -2.93, "type": "quantitative", "scale": {"domain": [-14.132, 15.488], "reverse": true, "nice": false, "zero": false}, "axis": null}}},
    {"data": {"values": [{"rule": "header"}]}, "mark": {"type": "rule", "color": "black", "strokeWidth": 0.8},
     "encoding": {"x": {"datum": 0.53, "type": "quantitative"}, "x2": {"datum": 1},
      "y": {"datum": 0.07, "type": "quantitative", "scale": {"domain": [-14.132, 15.488], "reverse": true, "nice": false, "zero": false}, "axis": null}}},
    {"data": {"values": [{"rule": "bottom"}]}, "mark": {"type": "rule", "color": "black", "strokeWidth": 1.6},
     "encoding": {"x": {"datum": 0.53, "type": "quantitative"}, "x2": {"datum": 1},
      "y": {"datum": 9.05, "type": "quantitative", "scale": {"domain": [-14.132, 15.488], "reverse": true, "nice": false, "zero": false}, "axis": null}}},
    {"data": {"values": [{"h": "M. avium"}]},
     "mark": {"type": "text", "align": "center", "baseline": "middle", "font": "Liberation Serif", "fontStyle": "italic", "fontSize": 12.5, "color": "black"},
     "encoding": {"x": {"datum": 0.734, "type": "quantitative"},
      "y": {"datum": 1, "type": "quantitative", "scale": {"domain": [-13.37, 20.704], "reverse": true, "nice": false, "zero": false}, "axis": null},
      "text": {"field": "h"}}},
    {"data": {"values": [{"h": "Strain"}]},
     "mark": {"type": "text", "align": "left", "baseline": "middle", "font": "Liberation Serif", "fontSize": 12.5, "color": "black"},
     "encoding": {"x": {"datum": 0.53, "type": "quantitative"},
      "y": {"datum": 2, "type": "quantitative", "scale": {"domain": [-13.37, 20.704], "reverse": true, "nice": false, "zero": false}, "axis": null},
      "text": {"field": "h"}}},
    {"data": {"values": [{"h": "strain"}]},
     "mark": {"type": "text", "align": "center", "baseline": "middle", "font": "Liberation Serif", "fontSize": 12.5, "color": "black"},
     "encoding": {"x": {"datum": 0.734, "type": "quantitative"},
      "y": {"datum": 2, "type": "quantitative", "scale": {"domain": [-13.37, 20.704], "reverse": true, "nice": false, "zero": false}, "axis": null},
      "text": {"field": "h"}}},
    {"data": {"values": [{"h": "Spleen"}]},
     "mark": {"type": "text", "align": "center", "baseline": "middle", "font": "Liberation Serif", "fontSize": 12.5, "color": "black"},
     "encoding": {"x": {"datum": 0.845, "type": "quantitative"},
      "y": {"datum": 2, "type": "quantitative", "scale": {"domain": [-13.37, 20.704], "reverse": true, "nice": false, "zero": false}, "axis": null},
      "text": {"field": "h"}}},
    {"data": {"values": [{"h": "Liver"}]},
     "mark": {"type": "text", "align": "center", "baseline": "middle", "font": "Liberation Serif", "fontSize": 12.5, "color": "black"},
     "encoding": {"x": {"datum": 0.948, "type": "quantitative"},
      "y": {"datum": 2, "type": "quantitative", "scale": {"domain": [-13.37, 20.704], "reverse": true, "nice": false, "zero": false}, "axis": null},
      "text": {"field": "h"}}},
    {"data": {"name": "table"},
     "mark": {"type": "text", "align": "left", "baseline": "middle", "font": "Liberation Serif", "fontWeight": "bold", "fontSize": 12.5, "color": "black"},
     "encoding": {"x": {"datum": 0.53, "type": "quantitative"},
      "y": {"field": "row", "type": "quantitative", "scale": {"domain": [-14.132, 15.488], "reverse": true, "nice": false, "zero": false}, "axis": null},
      "text": {"field": "Strain"}}},
    {"data": {"name": "table"},
     "mark": {"type": "text", "align": "left", "baseline": "middle", "font": "Liberation Serif", "fontSize": 12.5, "color": "black"},
     "encoding": {"x": {"datum": 0.5924, "type": "quantitative"},
      "y": {"field": "row", "type": "quantitative", "scale": {"domain": [-14.132, 15.488], "reverse": true, "nice": false, "zero": false}, "axis": null},
      "text": {"field": "Group"}}},
    {"data": {"name": "table"},
     "mark": {"type": "text", "align": "left", "baseline": "middle", "font": "Liberation Serif", "fontSize": 12.5, "color": "black"},
     "encoding": {"x": {"datum": 0.712, "type": "quantitative"},
      "y": {"field": "row", "type": "quantitative", "scale": {"domain": [-14.132, 15.488], "reverse": true, "nice": false, "zero": false}, "axis": null},
      "text": {"field": "Mav"}}},
    {"data": {"name": "table"},
     "mark": {"type": "text", "align": "center", "baseline": "middle", "font": "Liberation Serif", "fontSize": 12.5, "color": "black"},
     "encoding": {"x": {"datum": 0.845, "type": "quantitative"},
      "y": {"field": "row", "type": "quantitative", "scale": {"domain": [-14.132, 15.488], "reverse": true, "nice": false, "zero": false}, "axis": null},
      "text": {"field": "Spleen"}}},
    {"data": {"name": "table"},
     "mark": {"type": "text", "align": "right", "baseline": "middle", "font": "Liberation Serif", "fontSize": 12.5, "color": "black"},
     "encoding": {"x": {"datum": 0.97, "type": "quantitative"},
      "y": {"field": "row", "type": "quantitative", "scale": {"domain": [-14.132, 15.488], "reverse": true, "nice": false, "zero": false}, "axis": null},
      "text": {"field": "Liver"}}},
    {"data": {"values": [{"row": 11, "note": "* 10⁸ CFU."}, {"row": 12, "note": "† 10⁶ CFU."}]},
     "mark": {"type": "text", "align": "left", "baseline": "middle", "font": "Liberation Serif", "fontSize": 12.5, "color": "black"},
     "encoding": {"x": {"datum": 0.712, "type": "quantitative"},
      "y": {"field": "row", "type": "quantitative", "scale": {"domain": [-14.132, 15.488], "reverse": true, "nice": false, "zero": false}, "axis": null},
      "text": {"field": "note"}}}
   ]
  }
 ]
}
